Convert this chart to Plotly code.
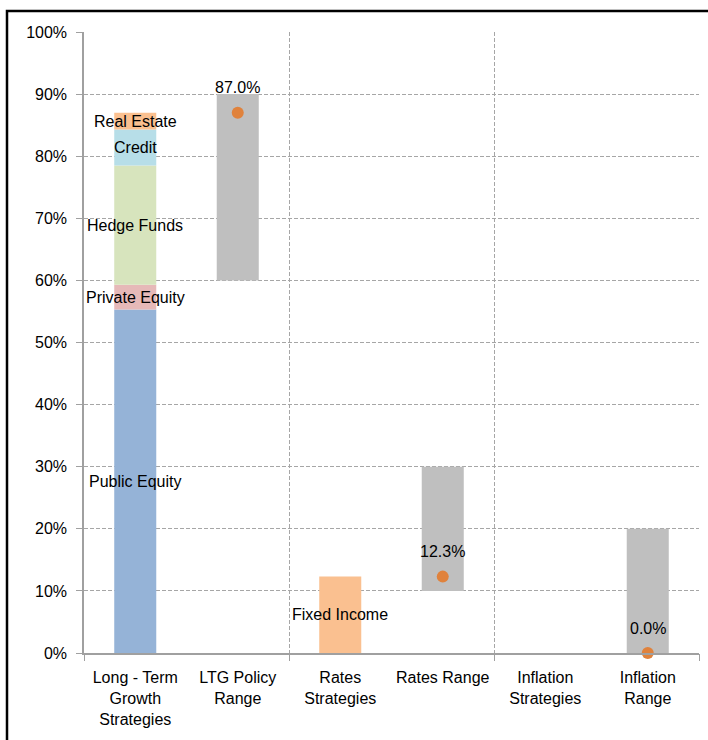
import numpy as np
import plotly.graph_objects as go

categories = ["Long - Term<br>Growth<br>Strategies", "LTG Policy<br>Range", "Rates<br>Strategies",
              "Rates Range", "Inflation<br>Strategies", "Inflation<br>Range"]
ltg_names = ["Public Equity", "Private Equity", "Hedge Funds", "Credit", "Real Estate"]
ltg_values = [55.3, 4.0, 19.2, 5.8, 2.7]
ltg_colors = ["#95B3D7", "#E6B9B8", "#D7E4BD", "#B7DEE8", "#FAC090"]
fixed_income = 12.3
range_pos = [1, 3, 5]
range_low = [60, 10, 0]
range_high = [90, 30, 20]
actual = [87.0, 12.3, 0.0]

FONT = "Liberation Sans, Arial, sans-serif"
FS = 16
fig = go.Figure()
bw = 0.41
bases = np.concatenate([[0], np.cumsum(ltg_values)[:-1]])
for n, v, b, c in zip(ltg_names, ltg_values, bases, ltg_colors):
    fig.add_trace(go.Bar(x=[0], y=[v], base=[b], width=bw, marker=dict(color=c, line_width=0),
                         name=n, hoverinfo="name"))
    fig.add_annotation(x=0, y=b + v / 2, text=n, showarrow=False,
                       font=dict(family=FONT, size=FS, color="#000"))
fig.add_trace(go.Bar(x=[2], y=[fixed_income], base=[0], width=bw,
                     marker=dict(color="#FAC090", line_width=0), name="Fixed Income"))
fig.add_annotation(x=2, y=fixed_income / 2, text="Fixed Income", showarrow=False,
                   font=dict(family=FONT, size=FS, color="#000"))
fig.add_trace(go.Bar(x=range_pos, y=[h - l for h, l in zip(range_high, range_low)], base=range_low,
                     width=bw, marker=dict(color="#BFBFBF", line_width=0), name="Range"))
fig.add_trace(go.Scatter(x=range_pos, y=actual, mode="markers", cliponaxis=False,
                         marker=dict(size=12, color="#E0823C"), name="Actual"))
for xp, a in zip(range_pos, actual):
    fig.add_annotation(x=xp, y=a, text=f"{a:.1f}%", showarrow=False, yshift=25,
                       font=dict(family=FONT, size=FS, color="#000"))
fig.add_trace(go.Scatter(x=[None], y=[None], xaxis="x2", showlegend=False))

fig.update_layout(
    width=708, height=740, barmode="overlay", showlegend=False,
    margin=dict(l=84, r=9, t=32, b=87),
    paper_bgcolor="white", plot_bgcolor="white",
    font=dict(family=FONT, size=FS, color="#000"),
    xaxis=dict(range=[-0.5, 5.5], tickvals=list(range(6)), ticktext=categories,
               showgrid=False, ticks="", showline=True, linecolor="#A0A0A0", linewidth=1.5,
               zeroline=False, tickfont=dict(size=FS), ticklabelstandoff=9),
    xaxis2=dict(range=[-0.5, 5.5], overlaying="x", anchor="y", side="bottom",
                tickvals=[-0.5, 1.5, 3.5, 5.5], showticklabels=False, ticks="outside",
                ticklen=7, tickcolor="#A0A0A0", showgrid=True, gridcolor="#A6A6A6",
                griddash="4px,2px", gridwidth=1, zeroline=False, showline=False),
    yaxis=dict(range=[0, 100], dtick=10, ticksuffix="%", showgrid=True, gridcolor="#A6A6A6",
               griddash="4px,2px", gridwidth=1, ticks="outside", ticklen=6, tickcolor="#A0A0A0",
               showline=True, linecolor="#A0A0A0", linewidth=1.5, zeroline=False,
               tickfont=dict(size=FS), ticklabelstandoff=6),
)
fig.add_shape(type="rect", xref="paper", yref="paper", x0=(7 - 84) / 615, x1=1.05,
              y0=-0.3, y1=1 + (32 - 11) / 621, line=dict(color="#000", width=2.5))
fig.write_html("out.html")
